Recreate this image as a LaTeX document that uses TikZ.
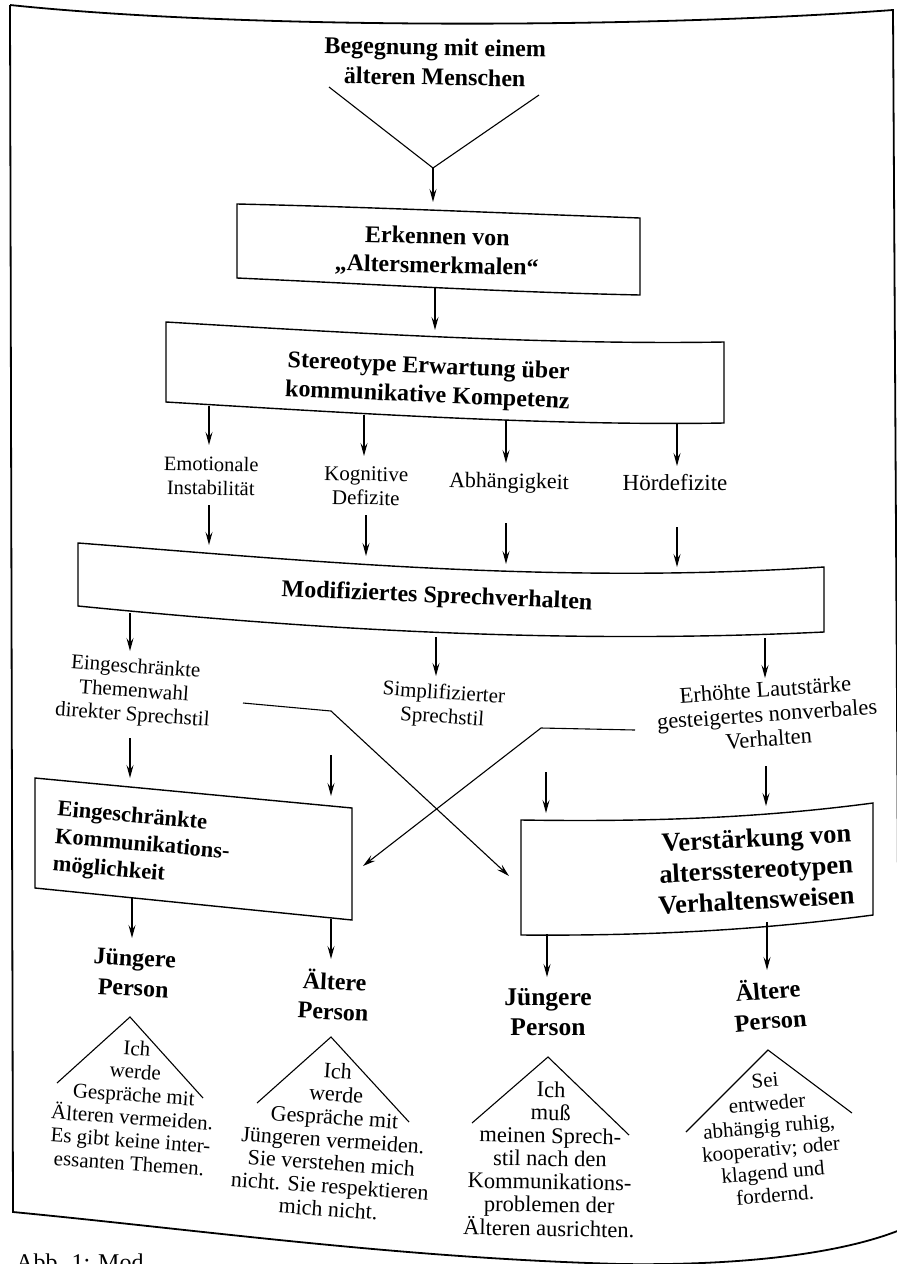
\documentclass[tikz,border=0pt]{standalone}
\usepackage{fontspec}
\setmainfont{Liberation Serif}
\usetikzlibrary{arrows.meta}
\begin{document}
\begin{tikzpicture}[x=1pt,y=-1pt,
  frame/.style={line width=1.8pt},
  boxline/.style={line width=1.4pt},
  conn/.style={line width=1.1pt,-{Stealth[length=13pt,width=7pt,inset=5pt]}},
  plain/.style={line width=1.1pt},
  btext/.style={font=\fontsize{24}{29}\selectfont\bfseries, align=center, inner sep=0pt},
  ltext/.style={font=\fontsize{21}{24}\selectfont, align=center, inner sep=0pt},
  ttext/.style={font=\fontsize{21}{23}\selectfont, align=center, inner sep=0pt},
]
\useasboundingbox (0,0) rectangle (897,1264);

% page frame
\draw[frame] (10,5) .. controls (250,30) and (650,28) .. (893,10) -- (900,1230);
\draw[frame] (10,5) -- (13,1212) .. controls (200,1230) and (400,1258) .. (620,1264) .. controls (760,1266) and (850,1250) .. (900,1230);
\node[anchor=north west, font=\fontsize{24}{28}\selectfont, inner sep=0pt] (cap) at (16,1254) {Abb. 1: Mod};

% title
\node[btext, font=\fontsize{24}{30}\selectfont\bfseries, rotate=-1] (title) at (435,62) {Begegnung mit einem\\älteren Menschen};
\coordinate (vl) at (329,87);
\coordinate (vr) at (539,95);
\coordinate (vm) at (433,168);
\coordinate (vme) at (433,202);
\draw[plain] (vl) -- (vm) -- (vr);
\draw[conn] (vm) -- (vme);

% Erkennen box
\draw[boxline] (237,204) .. controls (370,207) and (500,213) .. (640,218) -- (640,295) .. controls (500,292) and (370,284) .. (237,278) -- cycle;
\node[btext, rotate=-1.5] (erk) at (437,252) {Erkennen von\\„Altersmerkmalen“};
\coordinate (es) at (435,287);
\coordinate (ee) at (435,330);
\draw[conn] (es) -- (ee);

% Stereotype box
\draw[boxline] (166,322) .. controls (350,333) and (550,345) .. (724,342) -- (724,423) .. controls (550,426) and (350,413) .. (166,402) -- cycle;
\node[btext, rotate=-2.5] (ster) at (428,382) {Stereotype Erwartung über\\kommunikative Kompetenz};

\coordinate (s1a) at (209,406); \coordinate (s1b) at (209,445);
\coordinate (s2a) at (364,415); \coordinate (s2b) at (364,456);
\coordinate (s3a) at (506,421); \coordinate (s3b) at (506,463);
\coordinate (s4a) at (677,424); \coordinate (s4b) at (677,466);
\draw[conn] (s1a) -- (s1b);
\draw[conn] (s2a) -- (s2b);
\draw[conn] (s3a) -- (s3b);
\draw[conn] (s4a) -- (s4b);

\node[ltext, font=\fontsize{20.5}{24}\selectfont, rotate=-1] (emo) at (211,476) {Emotionale\\Instabilität};
\node[ltext, rotate=-1] (kog) at (366,486) {Kognitive\\Defizite};
\node[ltext, font=\fontsize{22}{24}\selectfont, rotate=-1] (abh) at (509,483) {Abhängigkeit};
\node[ltext, font=\fontsize{23}{24}\selectfont] (hoe) at (675,483) {Hördefizite};

\coordinate (m1a) at (209,505); \coordinate (m1b) at (209,545);
\coordinate (m2a) at (366,515); \coordinate (m2b) at (366,556);
\coordinate (m3a) at (506,523); \coordinate (m3b) at (506,564);
\coordinate (m4a) at (677,527); \coordinate (m4b) at (677,567);
\draw[conn] (m1a) -- (m1b);
\draw[conn] (m2a) -- (m2b);
\draw[conn] (m3a) -- (m3b);
\draw[conn] (m4a) -- (m4b);

% Modifiziertes box
\draw[boxline] (78,543) .. controls (300,560) and (550,585) .. (824,567) -- (824,632) .. controls (550,645) and (300,628) .. (78,606) -- cycle;
\node[btext, rotate=-2.5] (mod) at (437,597) {Modifiziertes Sprechverhalten};

\coordinate (d1a) at (130,613); \coordinate (d1b) at (130,651);
\coordinate (d2a) at (436,637); \coordinate (d2b) at (436,676);
\coordinate (d3a) at (765,638); \coordinate (d3b) at (765,678);
\draw[conn] (d1a) -- (d1b);
\draw[conn] (d2a) -- (d2b);
\draw[conn] (d3a) -- (d3b);

\node[ltext, rotate=-4] (ein) at (134,692) {Eingeschränkte\\Themenwahl\\direkter Sprechstil};
\node[ltext, rotate=-4] (sim) at (443,706) {Simplifizierter\\Sprechstil};
\node[ltext, font=\fontsize{22.5}{24.5}\selectfont, rotate=4] (erh) at (767,714) {Erhöhte Lautstärke\\gesteigertes nonverbales\\Verhalten};

% crossing connectors
\coordinate (xa0) at (243,703);
\coordinate (xa1) at (331,711);
\coordinate (xa2) at (509,876);
\draw[line width=1.1pt,-{Stealth[length=13pt,width=7pt,inset=5pt]}] (xa0) -- (xa1) -- (xa2);
\coordinate (xb0) at (635,730);
\coordinate (xb1) at (541,728);
\coordinate (xb2) at (363,866);
\draw[line width=1.1pt,-{Stealth[length=13pt,width=7pt,inset=5pt]}] (xb0) -- (xb1) -- (xb2);

\coordinate (l1a) at (130,738); \coordinate (l1b) at (130,778);
\coordinate (l2a) at (331,755); \coordinate (l2b) at (331,796);
\coordinate (l3a) at (546,772); \coordinate (l3b) at (546,813);
\coordinate (l4a) at (766,766); \coordinate (l4b) at (766,806);
\draw[conn] (l1a) -- (l1b);
\draw[conn] (l2a) -- (l2b);
\draw[conn] (l3a) -- (l3b);
\draw[conn] (l4a) -- (l4b);

% left lower box
\draw[boxline] (35,778) -- (352,808) -- (352,920) -- (35,888) -- cycle;
\node[btext, font=\fontsize{22.5}{27.5}\selectfont\bfseries, align=left, anchor=west, rotate=-5] (eink) at (55,838) {Eingeschränkte\\Kommunikations-\\möglichkeit};

% right lower box
\draw[boxline] (521,820) .. controls (650,822) and (760,818) .. (873,803) -- (873,915) .. controls (760,930) and (650,936) .. (521,935) -- cycle;
\node[btext, font=\fontsize{26.5}{31}\selectfont\bfseries, align=right, anchor=east, rotate=3] (verst) at (853,864) {Verstärkung von\\altersstereotypen\\Verhaltensweisen};

\coordinate (p1a) at (132,898); \coordinate (p1b) at (132,938);
\coordinate (p2a) at (331,919); \coordinate (p2b) at (331,959);
\coordinate (p3a) at (547,934); \coordinate (p3b) at (547,977);
\coordinate (p4a) at (767,922); \coordinate (p4b) at (767,970);
\draw[conn] (p1a) -- (p1b);
\draw[conn] (p2a) -- (p2b);
\draw[conn] (p3a) -- (p3b);
\draw[conn] (p4a) -- (p4b);

\node[btext, font=\fontsize{24}{30}\selectfont\bfseries, rotate=-3] (jp1) at (134,973) {Jüngere\\Person};
\node[btext, font=\fontsize{24}{30}\selectfont\bfseries, rotate=-3] (ap1) at (334,995) {Ältere\\Person};
\node[btext, font=\fontsize{25.5}{30}\selectfont\bfseries] (jp2) at (548,1012) {Jüngere\\Person};
\node[btext, font=\fontsize{24.5}{30}\selectfont\bfseries, rotate=5] (ap2) at (769,1004) {Ältere\\Person};

% roofs
\draw[plain] (57,1083) -- (130,1017) -- (203,1098);
\draw[plain] (257,1103) -- (331,1037) -- (409,1122);
\draw[plain] (472,1123) -- (548,1057) -- (629,1135);
\draw[plain] (686,1132) -- (768,1050) -- (852,1113);

\node[ttext, rotate=-4] (t1) at (133,1106) {Ich\\werde\\Gespräche mit\\Älteren vermeiden.\\Es gibt keine inter-\\essanten Themen.};
\node[ttext, font=\fontsize{22}{23}\selectfont, rotate=-4] (t2) at (333,1140) {Ich\\werde\\Gespräche mit\\Jüngeren vermeiden.\\Sie verstehen mich\\nicht. Sie respektieren\\mich nicht.};
\node[ttext, font=\fontsize{22.5}{23}\selectfont, rotate=-1] (t3) at (550,1159) {Ich\\muß\\meinen Sprech-\\stil nach den\\Kommunikations-\\problemen der\\Älteren ausrichten.};
\node[ttext, rotate=5] (t4) at (770,1138) {Sei\\entweder\\abhängig ruhig,\\kooperativ; oder\\klagend und\\fordernd.};
\end{tikzpicture}
\end{document}
